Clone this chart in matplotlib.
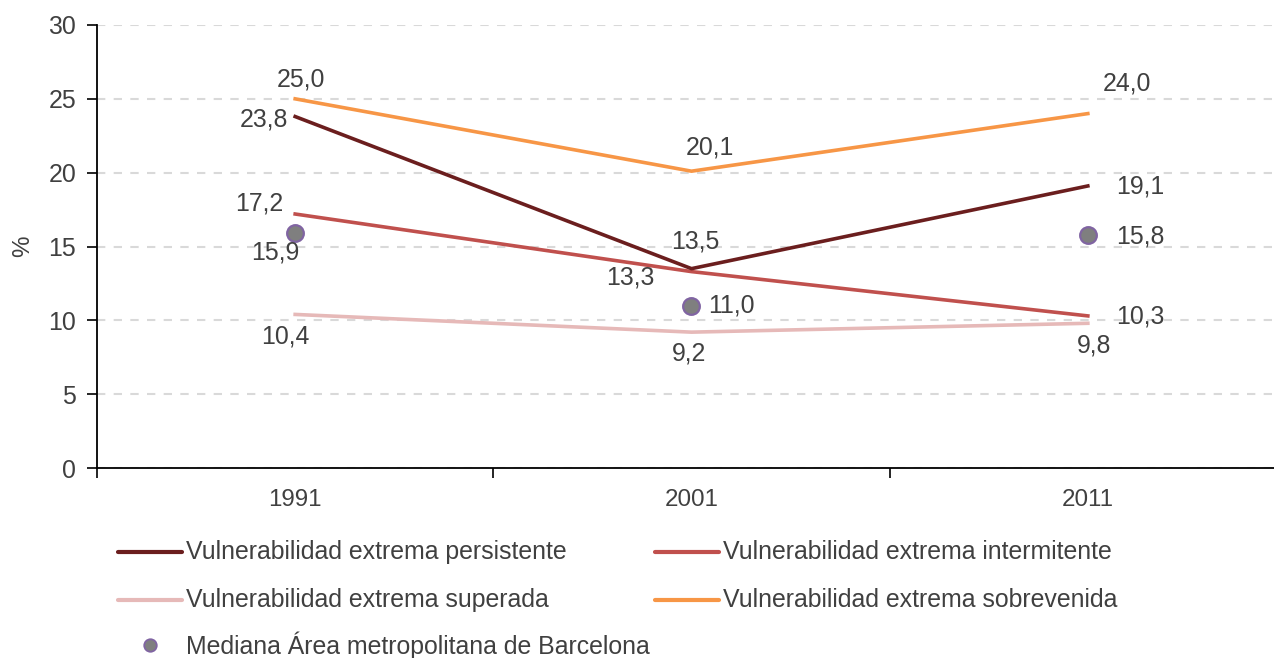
import matplotlib
matplotlib.use('Agg')
import matplotlib.pyplot as plt
from matplotlib.lines import Line2D

plt.rcParams['font.family'] = ['Liberation Sans', 'DejaVu Sans']

years = ['1991', '2001', '2011']
persistente = [23.8, 13.5, 19.1]
intermitente = [17.2, 13.3, 10.3]
superada = [10.4, 9.2, 9.8]
sobrevenida = [25.0, 20.1, 24.0]
mediana = [15.9, 11.0, 15.8]

series_names = ['Vulnerabilidad extrema persistente',
                'Vulnerabilidad extrema intermitente',
                'Vulnerabilidad extrema superada',
                'Vulnerabilidad extrema sobrevenida']
mediana_name = 'Mediana Área metropolitana de Barcelona'

c_pers = '#6B1E1E'
c_inter = '#C0504D'
c_sup = '#E6B9B8'
c_sobre = '#F79646'
txt = '#404040'
fs = 17.9

fig = plt.figure(figsize=(12.74, 6.58), dpi=100)
ax = fig.add_axes([97 / 1274, 190 / 658, 1189 / 1274, 443 / 658])

x = list(range(len(years)))
ax.plot(x, sobrevenida, color=c_sobre, lw=2.6)
ax.plot(x, superada, color=c_sup, lw=2.6)
ax.plot(x, intermitente, color=c_inter, lw=2.6)
ax.plot(x, persistente, color=c_pers, lw=2.6)
ax.plot(x, mediana, 'o', ls='none', ms=12, mfc='#7F7F7F', mec='#8064A2', mew=1.6)

ax.set_xlim(-0.5, 2.5)
ax.set_ylim(0, 30)
ax.set_yticks(range(0, 31, 5))
ax.set_xticks(x)
ax.set_xticklabels(years)
ax.set_xticks([-0.5, 0.5, 1.5, 2.5], minor=True)
ax.tick_params(axis='x', which='major', length=0, pad=15, labelsize=fs - 0.5, labelcolor=txt)
ax.tick_params(axis='x', which='minor', length=7, width=1.2, direction='out')
ax.tick_params(axis='y', length=7, width=1.2, labelsize=fs, labelcolor=txt, pad=8)
ax.set_ylabel('%', fontsize=fs - 0.5, color=txt, labelpad=10)
ax.grid(axis='y', ls=(0, (4, 4)), color='#D9D9D9', lw=1.5)
ax.set_axisbelow(True)
for s in ['top', 'right']:
    ax.spines[s].set_visible(False)
for s in ['left', 'bottom']:
    ax.spines[s].set_linewidth(1.3)

# offsets in pixels (dx right, dy down)
def lab(xi, yi, dx, dy):
    ax.annotate(f'{yi:.1f}'.replace('.', ','), (xi, yi), xytext=(dx, -dy),
                textcoords='offset pixels', ha='center', va='center',
                fontsize=fs, color=txt)

# 1991
lab(0, sobrevenida[0], 6, -19)
lab(0, persistente[0], -31, 3)
lab(0, intermitente[0], -36, -11)
lab(0, mediana[0], -20, 19)
lab(0, superada[0], -10, 22)
# 2001
lab(1, sobrevenida[1], 18, -24)
lab(1, persistente[1], 4, -27)
lab(1, intermitente[1], -61, 6)
lab(1, mediana[1], 40, 0)
lab(1, superada[1], -2, 21)
# 2011
lab(2, sobrevenida[2], 39, -30)
lab(2, persistente[2], 52, 1)
lab(2, mediana[2], 52, 2)
lab(2, intermitente[2], 52, 1)
lab(2, superada[2], 6, 22)

# legend drawn in figure pixels
def legline(x0, y, color, label):
    fig.add_artist(Line2D([x0 / 1274, (x0 + 64) / 1274], [1 - y / 658, 1 - y / 658],
                          color=color, lw=3, solid_capstyle='round'))
    fig.text((x0 + 68) / 1274, 1 - y / 658, label, fontsize=fs, color=txt, va='center')

legline(118, 552, c_pers, series_names[0])
legline(655, 552, c_inter, series_names[1])
legline(118, 600, c_sup, series_names[2])
legline(655, 600, c_sobre, series_names[3])
fig.add_artist(Line2D([150 / 1274], [1 - 645 / 658], marker='o', ms=9, ls='none',
                      mfc='#7F7F7F', mec='#8064A2', mew=1.3))
fig.text(186 / 1274, 1 - 645 / 658, mediana_name, fontsize=fs, color=txt, va='center')

fig.savefig('out.png', dpi=100)
